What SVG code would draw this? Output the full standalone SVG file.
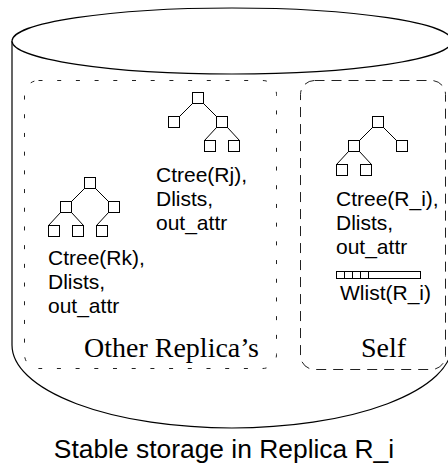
<svg xmlns="http://www.w3.org/2000/svg" width="448" height="470" viewBox="0 0 448 470">
  <style>
    .body { fill: #fff; stroke: #000; stroke-width: 1.2; }
    .grp-other { fill: none; stroke: #222; stroke-width: 1; stroke-dasharray: 4 14.7; }
    .grp-self { fill: none; stroke: #222; stroke-width: 1; stroke-dasharray: 10 7; }
    .node { fill: #fff; stroke: #000; stroke-width: 1; }
    .edge { fill: none; stroke: #000; stroke-width: 1; }
    .lbl { font-family: "Liberation Sans", Arial, sans-serif; font-size: 21px; fill: #000; }
    .cap { font-family: "Liberation Serif", "Times New Roman", serif; font-size: 28px; fill: #000; }
    .title { font-family: "Liberation Sans", Arial, sans-serif; font-size: 26.4px; fill: #000; }
  </style>

  <!-- storage cylinder -->
  <g id="cylinder">
    <path class="body" d="M12,41 L12,345 A220,83 0 0 0 452,345 L452,41"/>
    <ellipse class="body" cx="232" cy="41" rx="220" ry="33"/>
  </g>

  <!-- replica groups -->
  <g id="other-replicas">
    <rect class="grp-other" x="24.5" y="80.5" width="252" height="288" rx="14" ry="14"/>
    <text class="cap" x="84" y="357">Other Replica’s</text>
  </g>
  <g id="self">
    <rect class="grp-self" x="300.5" y="80.5" width="145" height="289" rx="14" ry="14"/>
    <text class="cap" x="361" y="357">Self</text>
  </g>

  <!-- tree edges -->
  <g id="connectors">
    <!-- Ctree(Rj) -->
    <path class="edge" d="M192.5,103.5 L179.5,116.5 M203.5,103.5 L216.5,116.5 M216.5,127.5 L204.5,140.5 M227.5,127.5 L239.5,140.5"/>
    <!-- Ctree(Rk) -->
    <path class="edge" d="M84.5,188.5 L71.5,201.5 M95.5,188.5 L108.5,201.5 M60.5,212.5 L48.5,225.5 M71.5,212.5 L83.5,225.5 M108.5,212.5 L96.5,225.5"/>
    <!-- Ctree(R_i) -->
    <path class="edge" d="M372.5,127.5 L359.5,140.5 M383.5,127.5 L396.5,140.5 M348.5,151.5 L336.5,164.5 M359.5,151.5 L371.5,164.5"/>
  </g>

  <!-- Ctree(Rj) -->
  <g id="tree-rj">
    <rect class="node" x="192.5" y="92.5" width="11" height="11"/>
    <rect class="node" x="168.5" y="116.5" width="11" height="11"/>
    <rect class="node" x="216.5" y="116.5" width="11" height="11"/>
    <rect class="node" x="204.5" y="140.5" width="11" height="11"/>
    <rect class="node" x="228.5" y="140.5" width="11" height="11"/>
    <text class="lbl" x="156" y="182">Ctree(Rj),</text>
    <text class="lbl" x="156" y="206">Dlists,</text>
    <text class="lbl" x="156" y="230">out_attr</text>
  </g>

  <!-- Ctree(Rk) -->
  <g id="tree-rk">
    <rect class="node" x="84.5" y="177.5" width="11" height="11"/>
    <rect class="node" x="60.5" y="201.5" width="11" height="11"/>
    <rect class="node" x="108.5" y="201.5" width="11" height="11"/>
    <rect class="node" x="48.5" y="225.5" width="11" height="11"/>
    <rect class="node" x="72.5" y="225.5" width="11" height="11"/>
    <rect class="node" x="96.5" y="225.5" width="11" height="11"/>
    <text class="lbl" x="48" y="265">Ctree(Rk),</text>
    <text class="lbl" x="48" y="289">Dlists,</text>
    <text class="lbl" x="48" y="313">out_attr</text>
  </g>

  <!-- Ctree(R_i) -->
  <g id="tree-ri">
    <rect class="node" x="372.5" y="116.5" width="11" height="11"/>
    <rect class="node" x="348.5" y="140.5" width="11" height="11"/>
    <rect class="node" x="396.5" y="140.5" width="11" height="11"/>
    <rect class="node" x="336.5" y="164.5" width="11" height="11"/>
    <rect class="node" x="360.5" y="164.5" width="11" height="11"/>
    <text class="lbl" x="336" y="206">Ctree(R_i),</text>
    <text class="lbl" x="336" y="230">Dlists,</text>
    <text class="lbl" x="336" y="254">out_attr</text>
  </g>

  <!-- Wlist(R_i) -->
  <g id="wlist">
    <rect class="node" x="336.5" y="271.5" width="84" height="7"/>
    <path class="edge" d="M344.5,271.5 V278.5 M352.5,271.5 V278.5 M360.5,271.5 V278.5 M368.5,271.5 V278.5"/>
    <text class="lbl" x="340" y="300">Wlist(R_i)</text>
  </g>

  <text id="caption" class="title" x="224" y="458" text-anchor="middle">Stable storage in Replica R_i</text>
</svg>
